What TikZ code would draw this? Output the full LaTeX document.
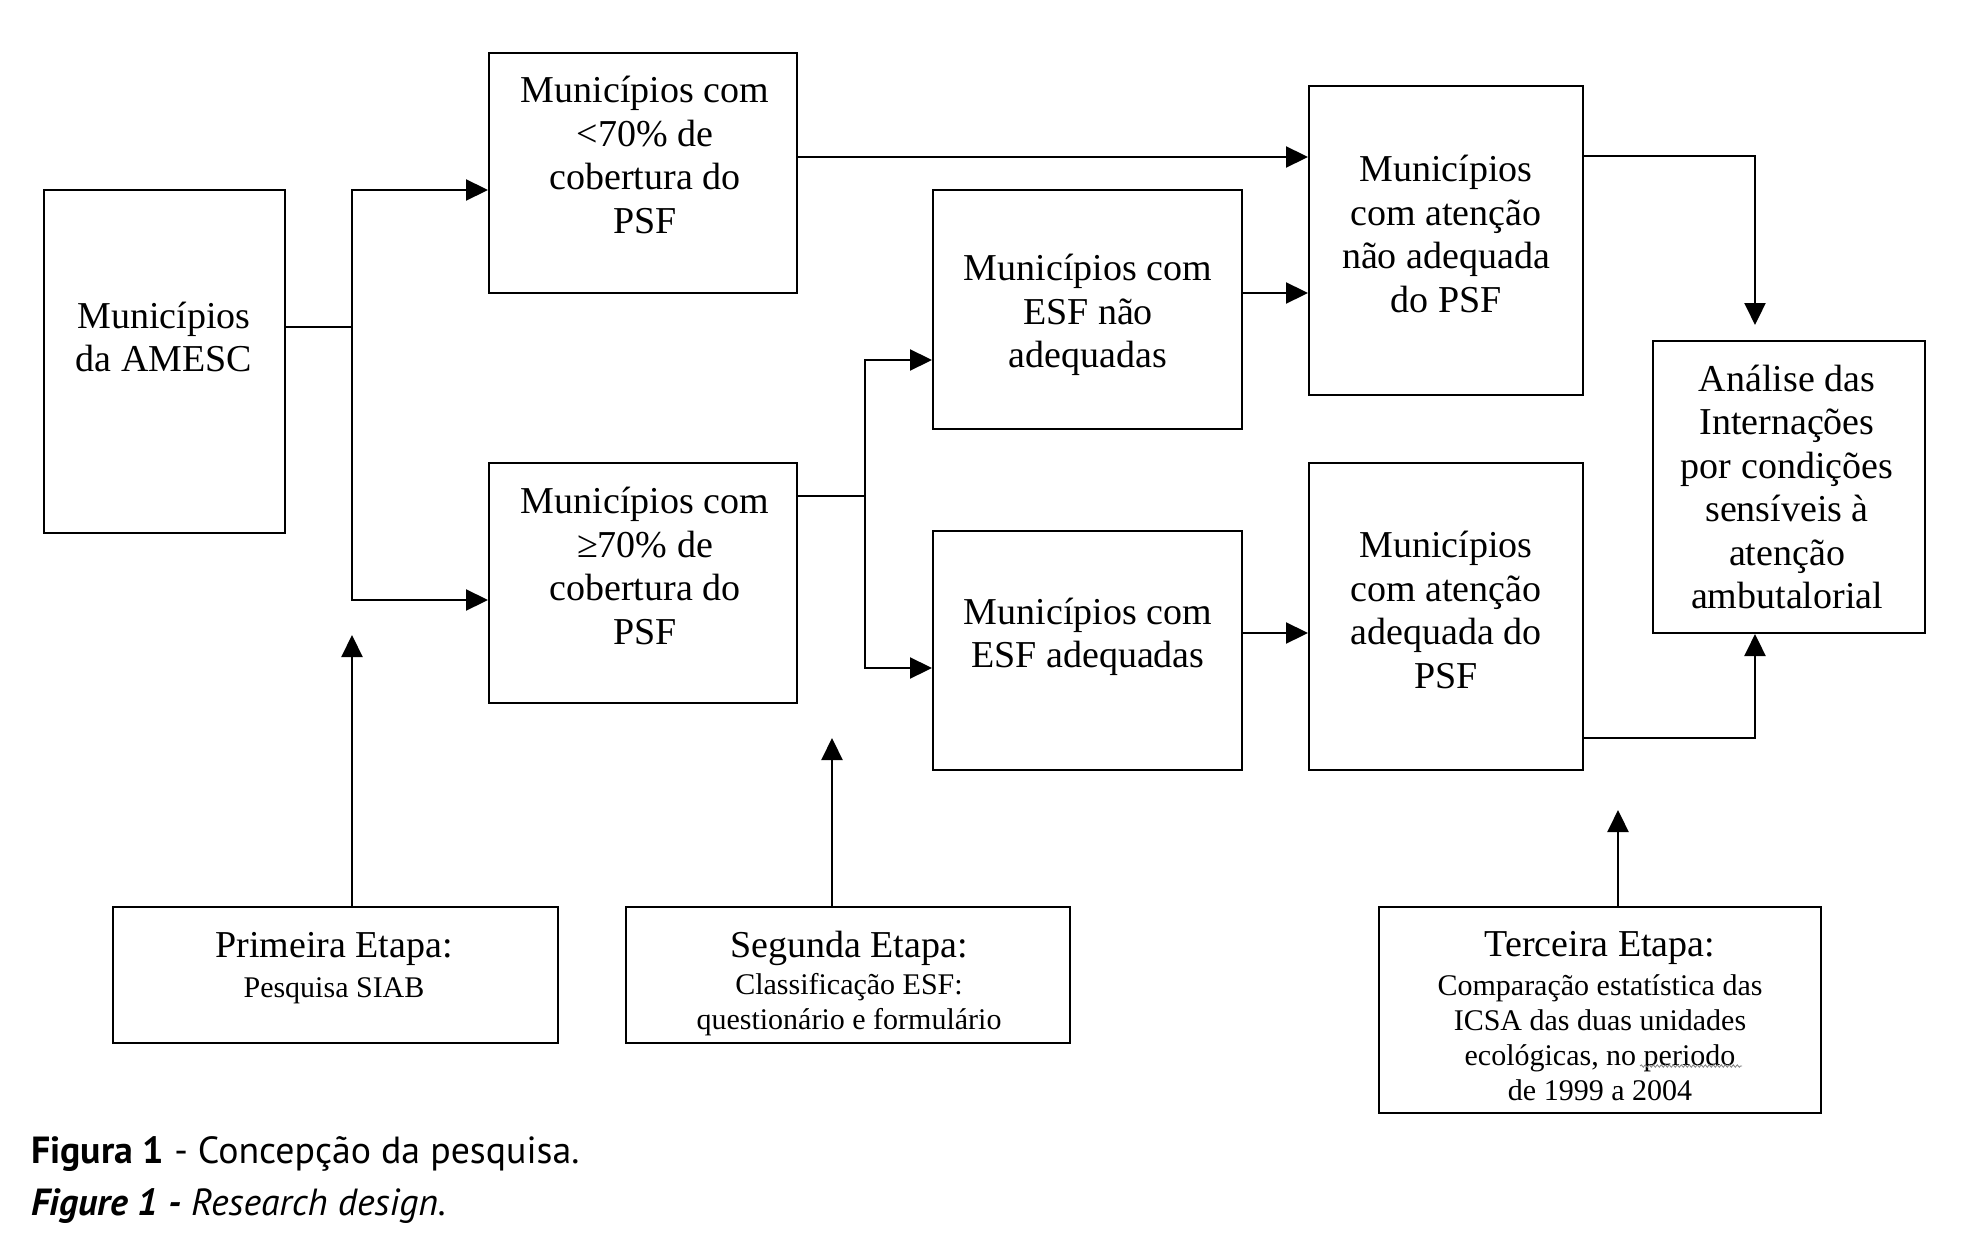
\documentclass[tikz,border=0pt]{standalone}
\usepackage{fontspec}
\setmainfont{Liberation Serif}
\newfontfamily\capfont{PT Sans}
\usetikzlibrary{arrows.meta,decorations.pathmorphing}
\begin{document}
\begin{tikzpicture}[x=1pt,y=-1pt,
  box/.style={draw, line width=2pt, inner sep=0pt},
  txt/.style={font=\fontsize{38}{43.5}\selectfont, align=center, inner sep=0pt},
  head/.style={font=\fontsize{38}{43.5}\selectfont, inner sep=0pt},
  small/.style={font=\fontsize{30}{35}\selectfont, align=center, inner sep=0pt},
  ln/.style={line width=2.2pt},
  arr/.style={line width=2.2pt, -{Triangle[length=22pt,width=21pt]}},
  capt/.style={font=\capfont\fontsize{37.8}{44}\selectfont, inner sep=0pt, anchor=base west}]
\useasboundingbox (0,0) rectangle (1969,1241);
% boxes
\node[box, minimum width=241pt, minimum height=343pt] (am) at (164.5,361.5) {};
\node[box, minimum width=308pt, minimum height=240pt] (lt70) at (643,173) {};
\node[box, minimum width=308pt, minimum height=240pt] (ge70) at (643,583) {};
\node[box, minimum width=309pt, minimum height=239pt] (esfn) at (1087.5,309.5) {};
\node[box, minimum width=309pt, minimum height=239pt] (esfa) at (1087.5,650.5) {};
\node[box, minimum width=274pt, minimum height=309pt] (atn) at (1446,240.5) {};
\node[box, minimum width=274pt, minimum height=307pt] (ata) at (1446,616.5) {};
\node[box, minimum width=272pt, minimum height=292pt] (anl) at (1789,487) {};
\node[box, minimum width=445pt, minimum height=136pt] (e1) at (335.5,975) {};
\node[box, minimum width=444pt, minimum height=136pt] (e2) at (848,975) {};
\node[box, minimum width=442pt, minimum height=206pt] (e3) at (1600,1010) {};
% texts
\node[txt] (tam) at (164,337) {Municípios\\da AMESC};
\node[txt] (tlt) at (645,155) {Municípios com\\<70\% de\\cobertura do\\PSF};
\node[txt] (tge) at (645,566) {Municípios com\\≥70\% de\\cobertura do\\PSF};
\node[txt] (tesfn) at (1088,315) {Municípios com\\ESF não\\adequadas};
\node[txt] (tesfa) at (1088,637) {Municípios com\\ESF adequadas};
\node[txt] (tatn) at (1446,234) {Municípios\\com atenção\\não adequada\\do PSF};
\node[txt] (tata) at (1446,610) {Municípios\\com atenção\\adequada do\\PSF};
\node[txt] (tanl) at (1787,487) {Análise das\\Internações\\por condições\\sensíveis à\\atenção\\ambutalorial};
\node[head] (h1) at (334,949) {Primeira Etapa:};
\node[small] (b1) at (334,991) {Pesquisa SIAB};
\node[head] (h2) at (849,948) {Segunda Etapa:};
\node[small] (b2) at (849,1005) {Classificação ESF:\\questionário e formulário};
\node[head] (h3) at (1600,948) {Terceira Etapa:};
\node[small] (b3) at (1600,1037.5) {Comparação estatística das\\ICSA das duas unidades\\ecológicas, no periodo\\de 1999 a 2004};
\draw[gray, line width=0.8pt, decorate, decoration={snake, amplitude=1.2pt, segment length=4pt}] (1640,1066) -- (1742,1066);
% connectors
\coordinate (j1) at (352,327);
\draw[ln] ([yshift=34.5pt]am.east) -- (j1);
\draw[arr] (j1) |- ([yshift=-17pt]lt70.west);
\draw[arr] (j1) |- ([yshift=-17pt]ge70.west);
\coordinate (c1) at ([yshift=16pt]lt70.east);
\draw[arr] (c1) -- (c1 -| atn.west);
\coordinate (j2) at (865,496);
\draw[ln] ([yshift=87pt]ge70.east) -- (j2);
\draw[arr] (j2) |- ([yshift=-50.5pt]esfn.west);
\draw[arr] (j2) |- ([yshift=-17.5pt]esfa.west);
\coordinate (c2) at ([yshift=16.5pt]esfn.east);
\draw[arr] (c2) -- (c2 -| atn.west);
\coordinate (c3) at ([yshift=17.5pt]esfa.east);
\draw[arr] (c3) -- (c3 -| ata.west);
\draw[arr, shorten >=15pt] ([yshift=84.5pt]atn.east) -| ([xshift=-34pt]anl.north);
\draw[arr] ([yshift=-121.5pt]ata.east) -| ([xshift=-34pt]anl.south);
\coordinate (t1) at (352,635);
\draw[arr] (e1.north -| t1) -- (t1);
\coordinate (t2) at (832,738);
\draw[arr] (e2.north -| t2) -- (t2);
\coordinate (t3) at (1618,810);
\draw[arr] (e3.north -| t3) -- (t3);
% caption
\node[capt] (cap1) at (31,1163) {\textbf{Figura 1} - Concepção da pesquisa.};
\node[capt] (cap2) at (31,1215) {\textbf{\textit{Figure 1 -}} \textit{Research design.}};
\end{tikzpicture}
\end{document}
